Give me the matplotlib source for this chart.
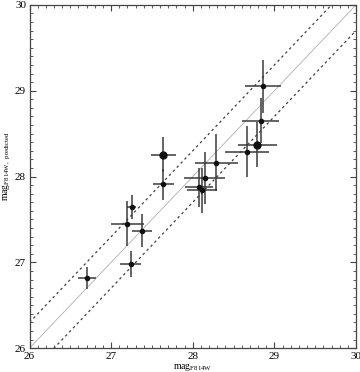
import numpy as np
import matplotlib
matplotlib.use("Agg")
import matplotlib.pyplot as plt
from matplotlib.ticker import MultipleLocator

plt.rcParams['font.family'] = ['Liberation Serif', 'DejaVu Serif']
plt.rcParams['mathtext.fontset'] = 'custom'
plt.rcParams['mathtext.rm'] = 'Liberation Serif'

mag_obs = [26.70, 27.24, 27.20, 27.25, 27.38, 27.64, 28.08, 28.115, 28.145,
           28.29, 28.66, 28.83, 28.86]
mag_pred = [26.82, 26.98, 27.45, 27.64, 27.37, 27.91, 27.875, 27.84, 27.98,
            28.16, 28.29, 28.65, 29.05]
err_obs = [0.11, 0.13, 0.20, 0.05, 0.125, 0.13, 0.17, 0.18, 0.25,
           0.26, 0.27, 0.23, 0.215]
err_pred = [0.13, 0.15, 0.26, 0.14, 0.19, 0.18, 0.23, 0.26, 0.30,
            0.33, 0.30, 0.26, 0.31]

# two brighter points drawn with bigger markers
big_obs = [27.64, 28.79]
big_pred = [28.255, 28.37]
big_err_obs = [0.15, 0.24]
big_err_pred = [0.20, 0.26]

offset = 0.3
lims = [26, 30]

fig = plt.figure(figsize=(3.6, 3.72), dpi=100)
ax = fig.add_axes([0.082, 0.064, 0.907, 0.923])

xx = np.array(lims)
ax.plot(xx, xx, color='#b0b0b0', lw=0.6, zorder=1)
ax.plot(xx, xx + offset, color='#404040', lw=0.9, ls=(0, (2, 2.5)), zorder=1)
ax.plot(xx, xx - offset, color='#404040', lw=0.9, ls=(0, (2, 2.5)), zorder=1)

ax.errorbar(mag_obs, mag_pred, xerr=err_obs, yerr=err_pred, fmt='o',
            ms=3, color='#111111', ecolor='#3a3a3a', elinewidth=1.1,
            capsize=0, zorder=3)
ax.errorbar(big_obs, big_pred, xerr=big_err_obs, yerr=big_err_pred, fmt='o',
            ms=5, color='#111111', ecolor='#3a3a3a', elinewidth=1.1,
            capsize=0, zorder=3)

ax.set_xlim(lims)
ax.set_ylim(lims)
ax.xaxis.set_major_locator(MultipleLocator(1))
ax.yaxis.set_major_locator(MultipleLocator(1))
ax.xaxis.set_minor_locator(MultipleLocator(0.1))
ax.yaxis.set_minor_locator(MultipleLocator(0.1))
ax.tick_params(which='both', direction='in', top=True, right=True,
               color='#444444', labelsize=8)
ax.tick_params(which='major', length=4, width=0.8, pad=2.5)
ax.tick_params(which='minor', length=2, width=0.6)
for s in ax.spines.values():
    s.set_color('#444444')
    s.set_linewidth(0.9)

ax.set_xlabel(r'mag$_{\rm F814W}$', fontsize=7)
ax.xaxis.set_label_coords(0.5, -0.036)
ax.set_ylabel(r'mag$_{\rm F814W,\ predicted}$', fontsize=7)
ax.yaxis.set_label_coords(-0.05, 0.53)

fig.savefig('out.png', dpi=100)
